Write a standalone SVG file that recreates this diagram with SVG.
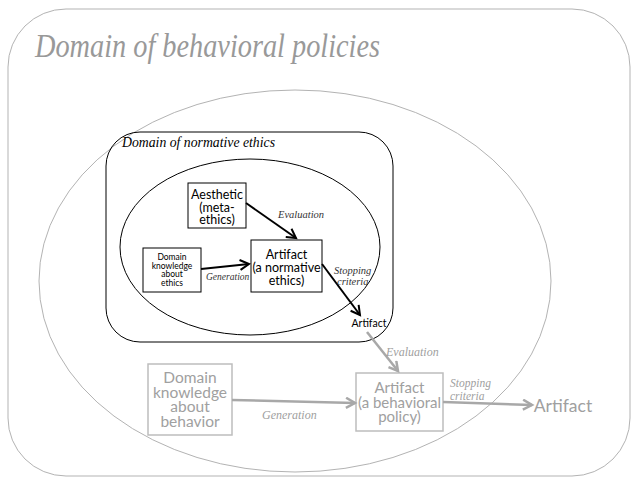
<svg xmlns="http://www.w3.org/2000/svg" width="639" height="479" viewBox="0 0 639 479">
<defs>
<style>
.bg{fill:#fff}
.frame{fill:none;stroke:#b3b3b3;stroke-width:1}
.blk{fill:none;stroke:#000;stroke-width:1}
.box{fill:#fff;stroke:#000;stroke-width:1}
.gbox{fill:#fff;stroke:#bdbdbd;stroke-width:1.5}
.sans{font-family:Lato,"Open Sans","Liberation Sans",sans-serif;text-anchor:middle}
.lbl{font-family:"Liberation Serif",serif;font-style:italic}
.cal{font-family:"Liberation Serif","DejaVu Serif",serif;font-style:italic}
.ba{fill:none;stroke:#000;stroke-width:2}
.ga{fill:none;stroke:#a8a8a8;stroke-width:2.5}
</style>
<marker id="mb" markerUnits="userSpaceOnUse" markerWidth="14" markerHeight="14" refX="11" refY="6" orient="auto">
<path d="M2,1 L11,6 L2,11" fill="none" stroke="#000" stroke-width="2"/>
</marker>
<marker id="mg" markerUnits="userSpaceOnUse" markerWidth="14" markerHeight="14" refX="11" refY="6" orient="auto">
<path d="M2,1 L11,6 L2,11" fill="none" stroke="#a8a8a8" stroke-width="2.5"/>
</marker>
</defs>
<rect width="639" height="479" class="bg"/>
<g id="domain-behavioral">
<rect x="8" y="9" width="622" height="467" rx="58" class="frame"/>
<text x="35" y="57" class="cal" font-size="34" fill="#999" textLength="345" lengthAdjust="spacingAndGlyphs">Domain of behavioral policies</text>
<ellipse cx="295" cy="281" rx="256" ry="191" class="frame"/>
</g>
<g id="domain-normative">
<rect x="106" y="132" width="287" height="210" rx="34" class="blk"/>
<text x="122" y="147" class="cal" font-size="15" fill="#000" textLength="153" lengthAdjust="spacingAndGlyphs">Domain of normative ethics</text>
<ellipse cx="250" cy="247" rx="130" ry="88" class="blk"/>
</g>
<g id="aesthetic">
<rect x="188" y="183" width="58" height="45" class="box"/>
<text class="sans" font-size="12.5" fill="#000"><tspan x="217" y="199">Aesthetic</tspan><tspan x="217" y="211.5">(meta-</tspan><tspan x="217" y="224">ethics)</tspan></text>
</g>
<g id="domain-knowledge-ethics">
<rect x="143" y="248" width="58" height="44" class="box"/>
<text class="sans" font-size="8.5" fill="#000"><tspan x="172" y="260">Domain</tspan><tspan x="172" y="268.5">knowledge</tspan><tspan x="172" y="277">about</tspan><tspan x="172" y="285.5">ethics</tspan></text>
</g>
<g id="artifact-normative">
<rect x="251" y="240" width="71" height="52" class="box"/>
<text class="sans" font-size="12.5" fill="#000"><tspan x="286.5" y="259">Artifact</tspan><tspan x="286.5" y="272">(a normative</tspan><tspan x="286.5" y="285">ethics)</tspan></text>
</g>
<g id="artifact-out-inner">
<text x="369" y="327" class="sans" font-size="10.5" fill="#000">Artifact</text>
</g>
<g id="domain-knowledge-behavior">
<rect x="148" y="364" width="84" height="71" class="gbox"/>
<text class="sans" font-size="15.5" fill="#a0a0a0"><tspan x="190" y="383">Domain</tspan><tspan x="190" y="397.5">knowledge</tspan><tspan x="190" y="412">about</tspan><tspan x="190" y="426.5">behavior</tspan></text>
</g>
<g id="artifact-behavioral">
<rect x="356" y="373" width="87" height="58" class="gbox"/>
<text class="sans" font-size="15" fill="#a0a0a0"><tspan x="399.5" y="393">Artifact</tspan><tspan x="399.5" y="407.5">(a behavioral</tspan><tspan x="399.5" y="422">policy)</tspan></text>
</g>
<g id="artifact-out-outer">
<text x="563" y="412" class="sans" font-size="17.5" fill="#a0a0a0">Artifact</text>
</g>
<g id="connectors">
<line x1="246" y1="203" x2="296" y2="238" class="ba" marker-end="url(#mb)"/>
<text x="278" y="218" class="lbl" font-size="10.5" fill="#333">Evaluation</text>
<line x1="201" y1="269" x2="249" y2="264" class="ba" marker-end="url(#mb)"/>
<text x="206" y="280" class="lbl" font-size="9.5" fill="#333">Generation</text>
<line x1="322" y1="264" x2="360" y2="315" class="ba" marker-end="url(#mb)"/>
<text class="lbl" font-size="10.5" fill="#333"><tspan x="334" y="274">Stopping</tspan><tspan x="337" y="285">criteria</tspan></text>
<line x1="367" y1="332" x2="398" y2="371" class="ga" marker-end="url(#mg)"/>
<text x="386" y="356" class="lbl" font-size="12" fill="#a0a0a0">Evaluation</text>
<line x1="232" y1="400" x2="355" y2="403" class="ga" marker-end="url(#mg)"/>
<text x="262" y="419" class="lbl" font-size="12" fill="#a0a0a0">Generation</text>
<line x1="443" y1="402" x2="532" y2="405" class="ga" marker-end="url(#mg)"/>
<text class="lbl" font-size="11.5" fill="#a0a0a0"><tspan x="450" y="387">Stopping</tspan><tspan x="450" y="400">criteria</tspan></text>
</g>
</svg>
